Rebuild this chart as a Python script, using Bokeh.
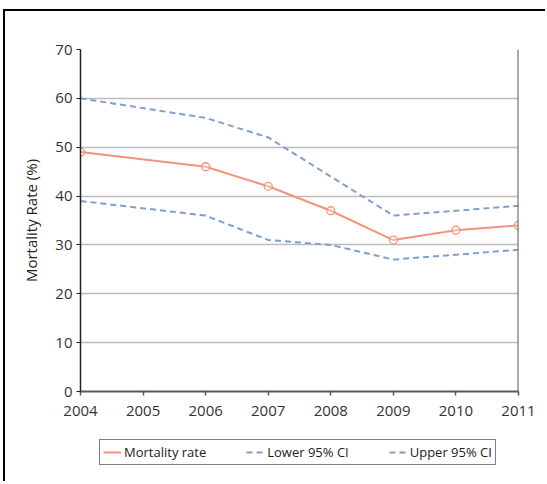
from bokeh.plotting import figure
from bokeh.layouts import column
from bokeh.models import Range1d, Legend, LegendItem, Span, FixedTicker
from bokeh.embed import file_html
from bokeh.resources import INLINE

years_rate = [2004, 2006, 2007, 2008, 2009, 2010, 2011]
mortality_rate = [49, 46, 42, 37, 31, 33, 34]
upper_ci = [60, 56, 52, 44, 36, 37, 38]
lower_ci = [39, 36, 31, 30, 27, 28, 29]
x_ticks = [2004, 2005, 2006, 2007, 2008, 2009, 2010, 2011]
y_ticks = [0, 10, 20, 30, 40, 50, 60, 70]
legend_labels = ["Mortality rate", "Lower 95% CI", "Upper 95% CI"]

FONT = "Open Sans"
RATE_COLOR = "#F4937D"
CI_COLOR = "#7F9ED2"

p = figure(width=540, height=415, output_backend="svg", toolbar_location=None,
           x_range=Range1d(2004, 2011), y_range=Range1d(0, 70),
           min_border_left=75, min_border_top=38, min_border_right=27, min_border_bottom=35)
p.outline_line_color = None
p.background_fill_color = "white"
p.border_fill_color = "white"

p.xgrid.grid_line_color = None
p.ygrid.grid_line_color = "#BDBDBD"
p.ygrid.grid_line_width = 1.3
p.ygrid.ticker = FixedTicker(ticks=y_ticks)

p.xaxis.ticker = FixedTicker(ticks=x_ticks)
p.yaxis.ticker = FixedTicker(ticks=y_ticks)
for ax in (p.xaxis[0], p.yaxis[0]):
    ax.major_label_text_font = FONT
    ax.major_label_text_font_size = "15px"
    ax.major_label_text_color = "#333333"
    ax.minor_tick_line_color = None
    ax.major_tick_in = 0
    ax.major_tick_out = 4
p.xaxis.axis_line_color = "#595959"
p.xaxis.axis_line_width = 2
p.xaxis.major_tick_line_color = "#595959"
p.xaxis.major_tick_line_width = 1.5
p.xaxis.major_label_standoff = 10
p.yaxis.axis_line_color = "#222222"
p.yaxis.axis_line_width = 1.5
p.yaxis.major_tick_line_color = "#222222"
p.yaxis.major_label_standoff = 4
p.yaxis.axis_label = "Mortality Rate (%)"
p.yaxis.axis_label_text_font = FONT
p.yaxis.axis_label_text_font_size = "15px"
p.yaxis.axis_label_text_font_style = "normal"
p.yaxis.axis_label_text_color = "#222222"
p.yaxis.axis_label_standoff = 11

p.add_layout(Span(location=2011, dimension="height", line_color="#595959", line_width=2))

p.line(years_rate, mortality_rate, line_color=RATE_COLOR, line_width=2)
p.scatter(years_rate, mortality_rate, marker="circle", size=8, line_color=RATE_COLOR,
          line_width=1.3, fill_color="white", fill_alpha=0.3)
p.line(years_rate, lower_ci, line_color=CI_COLOR, line_width=2, line_dash="6 4")
p.line(years_rate, upper_ci, line_color=CI_COLOR, line_width=2, line_dash="6 4")

# legend strip (its renderers use the same series, kept outside its visible range)
q = figure(width=540, height=55, output_backend="svg", toolbar_location=None,
           x_range=Range1d(0, 1), y_range=Range1d(0, 1),
           min_border_left=0, min_border_top=0, min_border_right=0, min_border_bottom=0)
q.axis.visible = False
q.grid.grid_line_color = None
q.outline_line_color = None
q.border_fill_color = "white"
lr = q.line(years_rate, mortality_rate, line_color=RATE_COLOR, line_width=2)
ll = q.line(years_rate, lower_ci, line_color=CI_COLOR, line_width=2, line_dash="6 4")
lu = q.line(years_rate, upper_ci, line_color=CI_COLOR, line_width=2, line_dash="6 4")

legend = Legend(items=[LegendItem(label=legend_labels[0], renderers=[lr]),
                       LegendItem(label=legend_labels[1], renderers=[ll]),
                       LegendItem(label=legend_labels[2], renderers=[lu])],
                orientation="horizontal", location=(19, 16))
legend.label_text_font = FONT
legend.label_text_font_size = "13px"
legend.label_text_color = "#222222"
legend.glyph_width = 18
legend.glyph_height = 12
legend.label_height = 14
legend.label_standoff = 3
legend.spacing = 40
legend.padding = 3
legend.margin = 0
legend.border_line_color = "black"
legend.border_line_width = 1
legend.background_fill_alpha = 1
q.add_layout(legend, "center")

layout = column(p, q, spacing=0)
layout.styles = {"border-left": "2px solid #000", "border-top": "2px solid #000",
                 "margin-left": "3px", "margin-top": "9px"}

open("out.html", "w").write(file_html(layout, INLINE))
